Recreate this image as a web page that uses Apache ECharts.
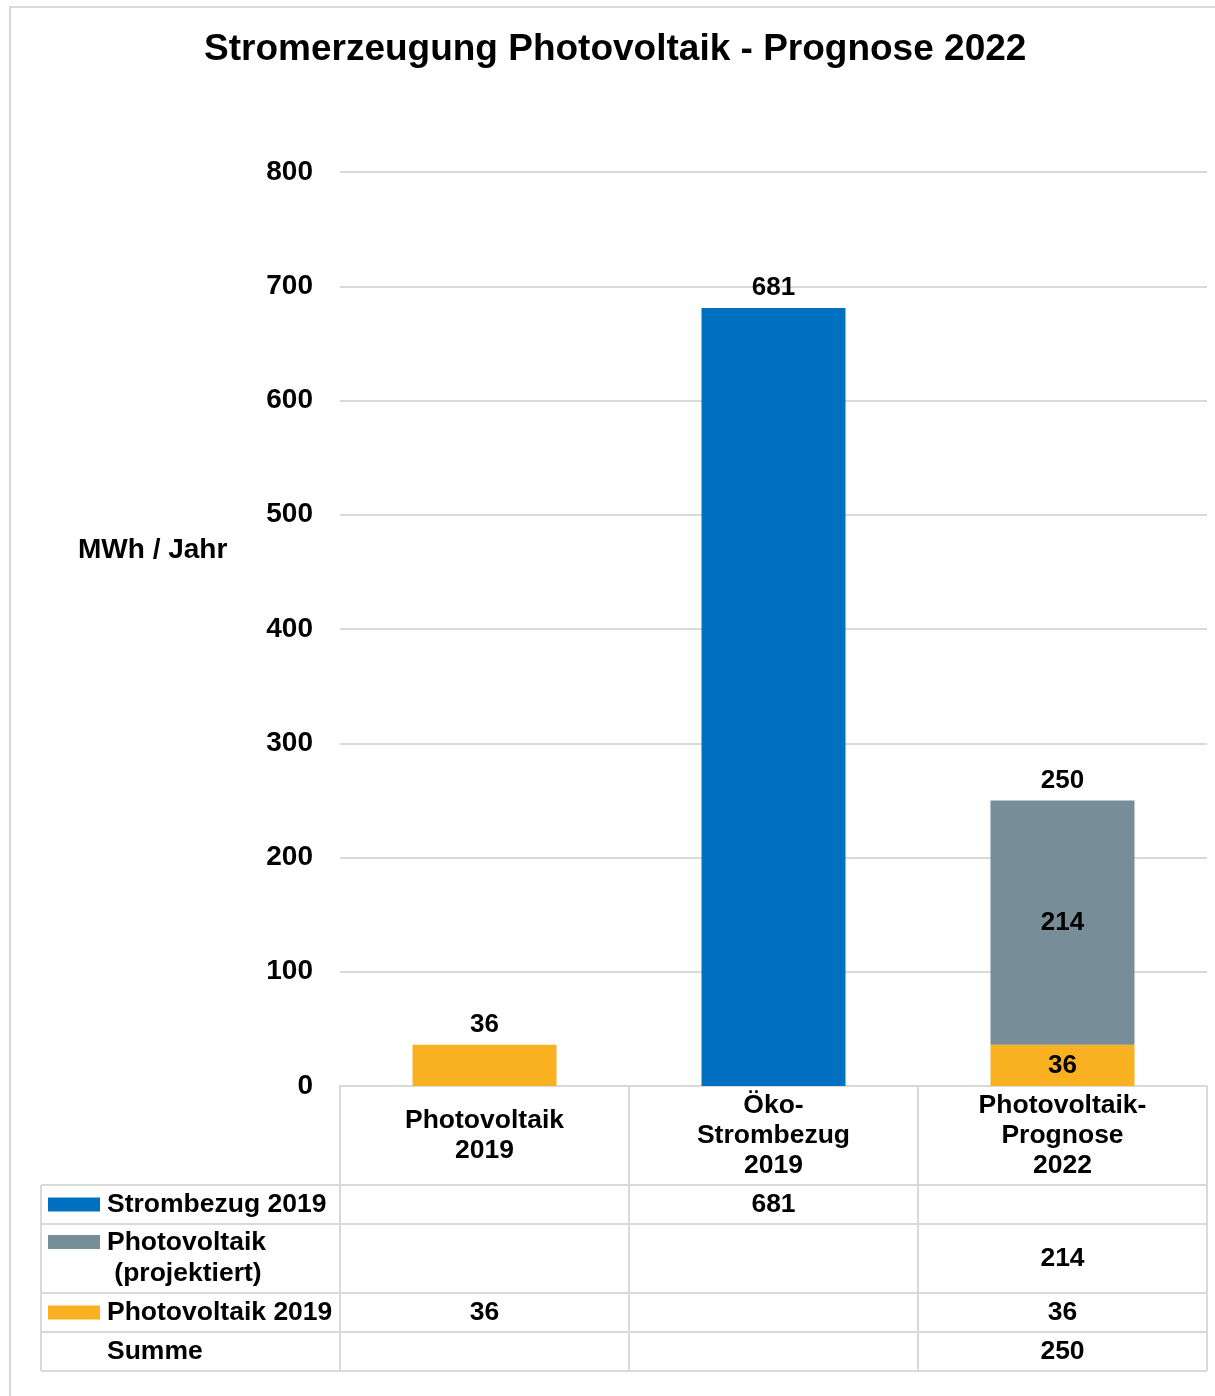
<!DOCTYPE html>
<html>
<head>
<meta charset="utf-8">
<script src="https://cdn.jsdelivr.net/npm/echarts@6/dist/echarts.min.js"></script>
<style>
  html, body { margin: 0; padding: 0; background: #fff; }
  #main { width: 1215px; height: 1396px; }
</style>
</head>
<body>
<div id="main"></div>
<script>
// Daten
const categories = ['Photovoltaik\n2019', 'Öko-\nStrombezug\n2019', 'Photovoltaik-\nPrognose\n2022'];
const strombezug2019 = [null, 681, null];
const pvProjektiert = [null, null, 214];
const pv2019 = [36, null, 36];
const summe = [null, null, 250];
const rowNames = ['Strombezug 2019', 'Photovoltaik\n (projektiert)', 'Photovoltaik 2019', 'Summe'];
const yMin = 0, yMax = 800, yStep = 100;

const colors = ['#0070C0', '#778E99', '#F9B122'];
const font = '"Liberation Sans", Arial, sans-serif';

// Layout
const gridLeft = 340, gridRight = 1207, gridTop = 172, gridBottom = 1086;
const tableLeft = 41;
const rowLines = [1185, 1224, 1293, 1332, 1371];

const chart = echarts.init(document.getElementById('main'));

const lbl = (pos) => ({
  show: true, position: pos, distance: 7,
  fontFamily: font, fontWeight: 'bold', fontSize: 26, color: '#000'
});

const option = {
  animation: false,
  title: {
    text: 'Stromerzeugung Photovoltaik - Prognose 2022',
    left: 199, top: 26,
    textStyle: { fontFamily: font, fontWeight: 'bold', fontSize: 37, color: '#000' }
  },
  grid: { left: gridLeft, right: 1215 - gridRight, top: gridTop, bottom: 1396 - gridBottom },
  xAxis: {
    type: 'category',
    data: categories,
    axisLine: { show: true, lineStyle: { color: '#d9d9d9', width: 2 } },
    axisTick: { show: false },
    axisLabel: {
      margin: 50, verticalAlign: 'middle', lineHeight: 30, interval: 0,
      fontFamily: font, fontWeight: 'bold', fontSize: 26.5, color: '#000'
    }
  },
  yAxis: {
    type: 'value', min: yMin, max: yMax, interval: yStep,
    axisLine: { show: false },
    axisTick: { show: false },
    splitLine: { lineStyle: { color: '#d9d9d9', width: 2 } },
    axisLabel: { margin: 27, fontFamily: font, fontWeight: 'bold', fontSize: 28, color: '#000' }
  },
  series: [
    {
      name: 'Strombezug 2019', type: 'bar', stack: 'total', barWidth: 144, barGap: '-100%',
      itemStyle: { color: colors[0] }, label: lbl('top'),
      data: strombezug2019
    },
    {
      name: 'Photovoltaik 2019', type: 'bar', stack: 'total', barWidth: 144,
      itemStyle: { color: colors[2] },
      data: pv2019.map((v, i) => ({ value: v, label: lbl(pvProjektiert[i] ? 'inside' : 'top') }))
    },
    {
      name: 'Photovoltaik (projektiert)', type: 'bar', stack: 'total', barWidth: 144,
      itemStyle: { color: colors[1] }, label: lbl('inside'),
      data: pvProjektiert
    },
    {
      name: 'Summe', type: 'bar', barWidth: 144, barGap: '-100%', z: 1,
      itemStyle: { color: 'rgba(0,0,0,0)' }, label: lbl('top'),
      data: summe
    }
  ]
};

chart.setOption(option);

// Datentabelle unter dem Diagramm
function buildTable() {
  const g = [];
  const line = (x1, y1, x2, y2) => g.push({
    type: 'line', shape: { x1, y1, x2, y2 }, style: { stroke: '#d9d9d9', lineWidth: 2 }, silent: true
  });
  const text = (x, y, t, align) => g.push({
    type: 'text', x, y,
    style: {
      text: t, fill: '#000', font: 'bold 26.5px ' + font,
      align: align || 'center', verticalAlign: 'middle', lineHeight: 31
    }, silent: true
  });

  // Rahmen des Diagramms
  g.push({ type: 'rect', shape: { x: 10, y: 7, width: 1240, height: 1420 },
    style: { fill: 'none', stroke: '#d9d9d9', lineWidth: 2 }, silent: true });

  const band = (gridRight - gridLeft) / categories.length;
  const colX = [];
  for (let i = 0; i <= categories.length; i++) colX.push(gridLeft + band * i);

  // Spalten
  colX.forEach(x => line(x, gridBottom, x, rowLines[rowLines.length - 1]));
  line(tableLeft, rowLines[0], tableLeft, rowLines[rowLines.length - 1]);
  // Zeilen
  rowLines.forEach(y => line(tableLeft, y, gridRight, y));

  const rows = [strombezug2019, pvProjektiert, pv2019, summe];
  const keyColors = [colors[0], colors[1], colors[2], null];
  rows.forEach((vals, r) => {
    const top = rowLines[r], bottom = rowLines[r + 1];
    const mid = (top + bottom) / 2;
    const multi = rowNames[r].indexOf('\n') >= 0;
    const firstLineY = multi ? top + 18 : mid;
    if (keyColors[r]) {
      g.push({ type: 'rect', shape: { x: 48, y: firstLineY - 7, width: 52, height: 14 },
        style: { fill: keyColors[r] }, silent: true });
    }
    text(107, mid, rowNames[r], 'left');
    vals.forEach((v, c) => {
      if (v != null) {
        const cx = chart.convertToPixel({ xAxisIndex: 0 }, c);
        text(cx, mid, String(v));
      }
    });
  });

  // y-Achsentitel
  g.push({ type: 'text', x: 78, y: 550,
    style: { text: 'MWh / Jahr', fill: '#000', font: 'bold 28px ' + font, verticalAlign: 'middle' }, silent: true });

  return g;
}

chart.setOption({ graphic: buildTable() });
</script>
</body>
</html>
